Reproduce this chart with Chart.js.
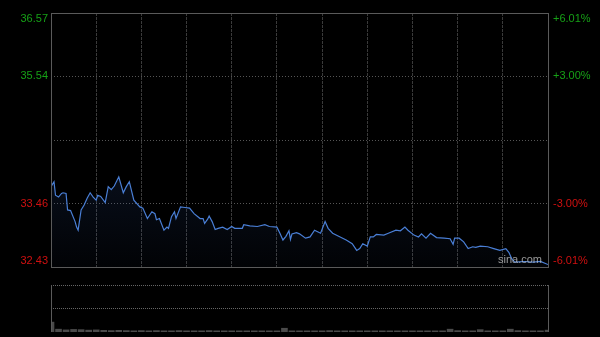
<!DOCTYPE html>
<html>
<head>
<meta charset="utf-8">
<script src="https://cdn.jsdelivr.net/npm/chart.js@4.4.1/dist/chart.umd.min.js"></script>
<style>
    html, body { margin: 0; padding: 0; background: #000; }
    #wrap { position: relative; width: 600px; height: 337px; background: #000; }
    #priceBox { position: absolute; left: 0; top: 0; width: 600px; height: 276px; }
    #volBox { position: absolute; left: 0; top: 276px; width: 600px; height: 61px; }
    #logo { position: absolute; left: 498px; top: 253px; font: 11px "Liberation Sans", Arial, sans-serif; color: rgba(200,200,200,0.75); }
</style>
</head>
<body>
<div id="wrap">
    <div id="priceBox"><canvas id="priceChart" width="600" height="276"></canvas></div>
    <div id="volBox"><canvas id="volChart" width="600" height="61"></canvas></div>
    <div id="logo">sina.com</div>
</div>
<script>
    // intraday, minutes since open (330 trading minutes)
    var minutes = [0, 2, 3, 5, 7, 8, 10, 11, 13, 16, 17, 18, 20, 22, 24, 26, 28, 30, 31, 33,
        36, 38, 40, 42, 45, 48, 50, 52, 55, 59, 61, 64, 67, 69, 70, 72, 75, 77, 78, 80,
        82, 83, 86, 89, 92, 95, 99, 101, 102, 104, 105, 107, 109, 111, 114, 117, 120, 122, 127, 128,
        132, 137, 142, 145, 150, 152, 154, 156, 158, 159, 160, 163, 165, 169, 172, 175, 179, 182, 184, 187,
        192, 196, 200, 203, 205, 207, 210, 212, 214, 216, 221, 224, 229, 232, 235, 237, 241, 244, 246, 249,
        252, 256, 261, 265, 267, 268, 271, 274, 277, 280, 282, 285, 290, 294, 298, 302, 304, 306, 308, 314,
        320, 325, 330];
    var prices = [33.74, 33.82, 33.60, 33.57, 33.63, 33.64, 33.63, 33.36, 33.35, 33.17, 33.08, 33.03, 33.36, 33.44, 33.55, 33.64, 33.57, 33.52, 33.60, 33.58,
        33.48, 33.74, 33.69, 33.75, 33.90, 33.64, 33.74, 33.82, 33.52, 33.41, 33.39, 33.22, 33.33, 33.30, 33.20, 33.22, 33.03, 33.08, 33.06, 33.25,
        33.33, 33.22, 33.41, 33.40, 33.39, 33.30, 33.22, 33.22, 33.14, 33.21, 33.26, 33.17, 33.04, 33.06, 33.08, 33.04, 33.09, 33.06, 33.06, 33.12,
        33.10, 33.09, 33.12, 33.09, 33.08, 32.98, 32.87, 32.93, 33.02, 32.88, 32.97, 32.99, 32.97, 32.90, 32.92, 33.03, 32.98, 33.17, 33.06, 32.98,
        32.92, 32.87, 32.81, 32.70, 32.73, 32.81, 32.77, 32.92, 32.92, 32.96, 32.95, 32.98, 33.03, 33.02, 33.08, 33.03, 32.95, 32.92, 32.97, 32.90,
        32.98, 32.91, 32.90, 32.89, 32.80, 32.90, 32.90, 32.84, 32.73, 32.76, 32.75, 32.77, 32.76, 32.73, 32.70, 32.73, 32.67, 32.56, 32.51, 32.52,
        32.51, 32.52, 32.47];

    // volume every 5 minutes
    var volumes = [210, 60, 45, 55, 50, 40, 45, 35, 30, 35,
        30, 25, 30, 25, 30, 25, 25, 30, 25, 25,
        25, 30, 25, 25, 25, 25, 25, 25, 25, 25,
        25, 80, 25, 25, 25, 25, 25, 30, 25, 25,
        25, 25, 25, 25, 25, 25, 25, 25, 25, 25,
        25, 25, 25, 60, 30, 25, 25, 50, 25, 25,
        25, 60, 30, 25, 25, 25, 40];

    var prevClose = 34.50;
    var priceTicks = [36.57, 35.54, 33.46, 32.43];
    var pctTicks = ["+6.01%", "+3.00%", "-3.00%", "-6.01%"];
    var gridTicks = [33.46, 34.50, 35.54];

    var upColor = "#16a016";
    var downColor = "#d01010";
    var frameColor = "#5a5a5a";

    var priceData = minutes.map(function (m, i) { return { x: m, y: prices[i] }; });
    var volData = volumes.map(function (v, i) { return { x: i * 5, y: v }; });

    var framePlugin = {
        id: "frame",
        afterDraw: function (chart) {
            var a = chart.chartArea, ctx = chart.ctx;
            ctx.save();
            ctx.strokeStyle = frameColor;
            ctx.lineWidth = 1;
            ctx.strokeRect(Math.round(a.left) + 0.5, Math.round(a.top) + 0.5, Math.round(a.right - a.left), Math.round(a.bottom - a.top));
            // axis labels, left price and right percent
            var y = chart.scales.y;
            ctx.font = "11px 'Liberation Sans', Arial, sans-serif";
            ctx.textBaseline = "middle";
            for (var i = 0; i < priceTicks.length; i++) {
                var py = y.getPixelForValue(priceTicks[i]);
                if (i === 0) py += 6;
                if (i === priceTicks.length - 1) py -= 6;
                ctx.fillStyle = priceTicks[i] > prevClose ? upColor : downColor;
                ctx.textAlign = "right";
                ctx.fillText(priceTicks[i].toFixed(2), a.left - 3, py);
                ctx.textAlign = "left";
                ctx.fillText(pctTicks[i], a.right + 5, py);
            }
            ctx.restore();
        }
    };

    var pctx = document.getElementById("priceChart").getContext("2d");
    var fillGrad = pctx.createLinearGradient(0, 170, 0, 267);
    fillGrad.addColorStop(0, "rgba(50,90,170,0.16)");
    fillGrad.addColorStop(1, "rgba(50,90,170,0.03)");

    new Chart(pctx, {
        type: "line",
        data: {
            datasets: [{
                data: priceData,
                borderColor: "#4a7fd6",
                borderWidth: 1.2,
                pointRadius: 0,
                tension: 0,
                fill: "start",
                backgroundColor: fillGrad
            }]
        },
        options: {
            responsive: false,
            animation: false,
            layout: { padding: { left: 51, right: 52, top: 13, bottom: 9 } },
            plugins: { legend: { display: false }, tooltip: { enabled: false } },
            scales: {
                x: {
                    type: "linear",
                    min: 0,
                    max: 330,
                    afterBuildTicks: function (s) {
                        var t = [];
                        for (var m = 30; m < 330; m += 30) t.push({ value: m });
                        s.ticks = t;
                    },
                    ticks: { display: false },
                    grid: { color: "#3a3a3a", drawTicks: false, lineWidth: 1 },
                    border: { display: false, dash: [3, 1] }
                },
                y: {
                    min: 32.43,
                    max: 36.57,
                    afterBuildTicks: function (s) {
                        s.ticks = gridTicks.map(function (v) { return { value: v }; });
                    },
                    ticks: { display: false },
                    grid: { color: "#555", drawTicks: false, lineWidth: 1 },
                    border: { display: false, dash: [1, 2] }
                }
            }
        },
        plugins: [framePlugin]
    });

    var volFrame = {
        id: "volFrame",
        afterDraw: function (chart) {
            var a = chart.chartArea, ctx = chart.ctx;
            ctx.save();
            ctx.strokeStyle = frameColor;
            ctx.lineWidth = 1;
            ctx.beginPath();
            ctx.moveTo(Math.round(a.left) + 0.5, a.top);
            ctx.lineTo(Math.round(a.left) + 0.5, a.bottom);
            ctx.moveTo(Math.round(a.right) + 0.5, a.top);
            ctx.lineTo(Math.round(a.right) + 0.5, a.bottom);
            ctx.stroke();
            ctx.restore();
        }
    };

    new Chart(document.getElementById("volChart"), {
        type: "bar",
        data: {
            datasets: [{
                data: volData,
                backgroundColor: "#4a4a4a",
                barThickness: 6
            }]
        },
        options: {
            responsive: false,
            animation: false,
            layout: { padding: { left: 51, right: 52, top: 9, bottom: 5 } },
            plugins: { legend: { display: false }, tooltip: { enabled: false } },
            scales: {
                x: {
                    type: "linear",
                    display: false,
                    min: 0,
                    max: 330,
                    offset: false
                },
                y: {
                    min: 0,
                    max: 1000,
                    afterBuildTicks: function (s) {
                        s.ticks = [{ value: 500 }, { value: 1000 }];
                    },
                    ticks: { display: false },
                    grid: { color: "#666", drawTicks: false, lineWidth: 1 },
                    border: { display: false, dash: [1, 1] }
                }
            }
        },
        plugins: [volFrame]
    });
</script>
</body>
</html>
